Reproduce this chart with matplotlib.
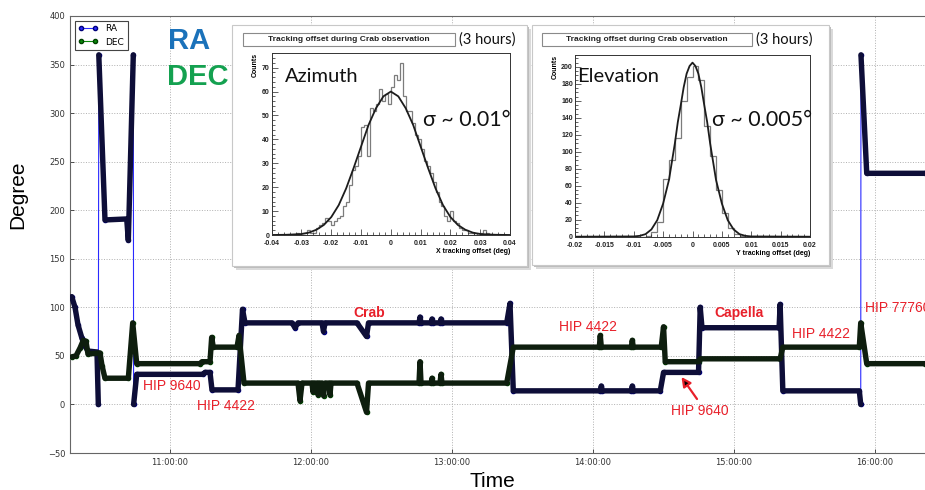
import numpy as np
import pandas as pd
import matplotlib
matplotlib.use('Agg')
import matplotlib.pyplot as plt
import matplotlib.dates as mdates
from matplotlib.patches import Rectangle
from matplotlib.ticker import MultipleLocator

W, H = 925, 490

# RA / DEC pointing log (time of day, degrees)
ra_time = ['10:18:10', '10:19:35', '10:20:51', '10:22:33', '10:23:50', '10:25:06', '10:28:56',
           '10:29:30', '10:29:42', '10:32:20', '10:41:35', '10:42:16', '10:44:23', '10:44:31',
           '10:45:50', '11:14:00', '11:14:53', '11:17:01', '11:17:52', '11:28:56', '11:30:51',
           '11:31:55', '11:51:55', '11:53:11', '11:54:28', '12:04:41', '12:05:19', '12:05:57',
           '12:19:34', '12:23:37', '12:24:28', '12:45:57', '12:46:23', '12:46:48', '12:51:04',
           '12:51:29', '12:51:55', '12:54:53', '12:55:19', '12:55:44', '13:23:16', '13:24:40',
           '13:26:04', '14:03:05', '14:03:31', '14:03:56', '14:16:17', '14:16:42', '14:17:08',
           '14:28:36', '14:30:00', '14:44:53', '14:45:36', '14:46:21', '15:19:10', '15:19:36',
           '15:20:45', '15:53:18', '15:53:54', '15:54:00', '15:56:27', '16:21:15']
ra_deg = [111, 100, 82, 68, 60, 55, 54,
          0, 360, 190, 191, 169, 360, 0,
          31, 31, 33, 33, 15, 15, 98,
          84, 84, 79, 84, 84, 75, 84,
          84, 70, 84, 84, 90, 84, 84,
          88, 84, 84, 88, 84, 84, 104,
          14, 14, 19, 14, 14, 19, 14,
          14, 33, 33, 100, 79, 79, 103,
          14, 14, 0, 360, 238, 238]

dec_time = ['10:18:10', '10:20:00', '10:21:42', '10:23:06', '10:24:15', '10:25:06', '10:30:13',
            '10:31:04', '10:32:20', '10:42:16', '10:44:08', '10:45:50', '11:12:46', '11:13:37',
            '11:17:01', '11:17:44', '11:18:25', '11:28:31', '11:29:22', '11:31:29', '11:54:28',
            '11:55:19', '11:56:10', '12:00:25', '12:00:51', '12:01:16', '12:02:33', '12:02:58',
            '12:03:24', '12:04:41', '12:05:19', '12:05:57', '12:07:39', '12:08:05', '12:08:30',
            '12:19:34', '12:23:37', '12:24:28', '12:45:57', '12:46:23', '12:46:48', '12:51:04',
            '12:51:29', '12:51:55', '12:54:53', '12:55:19', '12:55:44', '13:23:16', '13:26:04',
            '14:02:40', '14:03:05', '14:03:31', '14:16:17', '14:16:42', '14:17:08', '14:29:01',
            '14:30:00', '14:30:43', '14:44:53', '14:45:36', '15:19:36', '15:20:45', '15:53:18',
            '15:53:54', '15:56:27', '16:21:15']
dec_deg = [49, 50, 58, 66, 65, 52, 53,
           40, 27, 27, 84, 42, 42, 44,
           44, 69, 59, 59, 71, 22, 22,
           4, 22, 22, 13, 22, 22, 10,
           22, 22, 9, 22, 22, 10, 22,
           22, -8, 22, 22, 44, 22, 22,
           27, 22, 22, 31, 22, 22, 59,
           59, 71, 59, 59, 66, 59, 59,
           80, 44, 44, 47, 47, 59, 59,
           84, 42, 42]

y_ticks = [-50, 0, 50, 100, 150, 200, 250, 300, 350, 400]

# target labels: (text, x px, y px, bold)
targets = [('HIP 9640', 172, 386, False), ('HIP 4422', 226, 406, False),
           ('Crab', 369, 313, True), ('HIP 4422', 588, 327, False),
           ('Capella', 739, 313, True), ('HIP 4422', 821, 334, False),
           ('HIP 9640', 700, 411, False)]

# inset histograms (tracking offsets)
az_lo, az_bin = -0.04, 0.001
az_counts = [0, 0, 0, 0, 0, 0, 0, 0, 1, 0,
             1, 1, 2, 1, 1, 3, 4, 5, 7, 6,
             4, 6, 7, 8, 12, 14, 21, 27, 29, 33,
             45, 46, 33, 53, 52, 55, 61, 56, 59, 55,
             62, 67, 65, 72, 58, 52, 52, 47, 42, 40,
             36, 31, 29, 26, 22, 18, 14, 12, 8, 6,
             10, 6, 5, 3, 2, 2, 1, 1, 0, 1,
             1, 2, 1, 0, 0, 0, 0, 0, 0, 0]
az_fit_x = [-0.04, -0.035, -0.03, -0.0275, -0.025, -0.0225, -0.02, -0.0175, -0.015, -0.0125,
            -0.01, -0.0075, -0.005, -0.0025, 0, 0.0025, 0.005, 0.0075, 0.01, 0.0125,
            0.015, 0.0175, 0.02, 0.0225, 0.025, 0.0275, 0.03, 0.035, 0.04]
az_fit_y = [0, 0.1, 0.4, 1, 2.2, 4.2, 7.5, 12.5, 19.5, 28,
            37, 46, 53, 58, 60, 58, 53, 46, 37, 28,
            19.5, 12.5, 7.5, 4.2, 2.2, 1, 0.4, 0.1, 0]

el_lo, el_bin = -0.02, 0.001
el_counts = [0, 0, 0, 0, 0, 0, 0, 0, 0, 0, 0,
             0, 1, 5, 17, 68, 90, 116, 160, 188, 201, 185, 130, 95, 55, 28, 10, 3, 1,
             0, 0, 0, 0, 0, 0, 0, 0, 0, 0, 0]
el_fit_x = [-0.02, -0.01, -0.009, -0.008, -0.007, -0.006, -0.005, -0.004, -0.003, -0.0025,
            -0.002, -0.0015, -0.001, -0.0005, 0, 0.0005, 0.001, 0.0015, 0.002, 0.0025,
            0.003, 0.004, 0.005, 0.006, 0.007, 0.008, 0.009, 0.01, 0.02]
el_fit_y = [0, 0.3, 1, 3, 8.5, 19.5, 39, 67, 110, 135,
            155, 176, 192, 201, 205, 201, 192, 176, 155, 135,
            110, 67, 39, 19.5, 8.5, 3, 1, 0.3, 0]

az_ticks = [-0.04, -0.03, -0.02, -0.01, 0, 0.01, 0.02, 0.03, 0.04]
az_tick_labels = ['-0.04', '-0.03', '-0.02', '-0.01', '0', '0.01', '0.02', '0.03', '0.04']
el_ticks = [-0.02, -0.015, -0.01, -0.005, 0, 0.005, 0.01, 0.015, 0.02]
el_tick_labels = ['-0.02', '-0.015', '-0.01', '-0.005', '0', '0.005', '0.01', '0.015', '0.02']


def px_rect(x0, y0, x1, y1):
    return [x0 / W, 1 - y1 / H, (x1 - x0) / W, (y1 - y0) / H]


def to_dt(times):
    return pd.to_datetime(['2012-01-01 ' + s for s in times])


fig = plt.figure(figsize=(W / 100, H / 100), dpi=100)
ax = fig.add_axes(px_rect(70, 16, 935, 453), zorder=1)

t_ra = to_dt(ra_time)
t_dec = to_dt(dec_time)
ra = np.array(ra_deg, dtype=float)
dec = np.array(dec_deg, dtype=float)

# thin connecting lines with markers (shows the 360 -> 0 wraps)
ax.plot(t_ra, ra, 'o-', color='#2a2aff', lw=0.8, ms=3, mec='#00007a', label='RA', zorder=2)
ax.plot(t_dec, dec, 'o-', color='#0a8a0a', lw=0.8, ms=3, mec='#004000', label='DEC', zorder=2)

# thick dense tracks, broken at the RA wraps
splits = np.where(np.abs(np.diff(ra)) > 300)[0] + 1
for idx in np.split(np.arange(len(ra)), splits):
    ax.plot(t_ra[idx], ra[idx], color='#0e0e38', lw=3.9, solid_joinstyle='round',
            solid_capstyle='round', zorder=3)
ax.plot(t_dec, dec, color='#0e1e0e', lw=3.9, solid_joinstyle='round',
        solid_capstyle='round', zorder=4)

ax.set_xlim(pd.Timestamp('2012-01-01 10:17:27'), pd.Timestamp('2012-01-01 16:25:30'))
ax.set_ylim(-50, 400)
ax.set_yticks(y_ticks)
ax.xaxis.set_major_locator(mdates.HourLocator())
ax.xaxis.set_major_formatter(mdates.DateFormatter('%H:%M:%S'))
ax.tick_params(labelsize=6, colors='#333333', direction='in', length=3, width=0.6)
ax.grid(True, ls=':', color='#b0b0b0', lw=0.7)
for side in ['left', 'bottom', 'top']:
    ax.spines[side].set_color('#666666')
    ax.spines[side].set_linewidth(0.8)
ax.spines['right'].set_visible(False)

leg = ax.legend(loc='upper left', fontsize=6.5, numpoints=2, fancybox=False,
                edgecolor='#444444', framealpha=1, handlelength=2.2, borderpad=0.4,
                labelspacing=0.5)
leg.get_frame().set_linewidth(0.8)

fig.text(18 / W, 1 - 195 / H, 'Degree', rotation=90, ha='center', va='center',
         fontsize=15, family='Liberation Sans')
fig.text(492 / W, 1 - 481 / H, 'Time', ha='center', va='center',
         fontsize=15, family='Liberation Sans')
fig.text(168 / W, 1 - 41 / H, 'RA', ha='left', va='center', fontsize=21,
         fontweight='bold', color='#1b72ba', family='Liberation Sans', zorder=10)
fig.text(167 / W, 1 - 77 / H, 'DEC', ha='left', va='center', fontsize=21,
         fontweight='bold', color='#14a150', family='Liberation Sans', zorder=10)

red = '#e8202a'
for txt, x, y, bold in targets:
    ax.annotate(txt, xy=(x, H - y), xycoords='figure pixels', ha='center', va='center',
                color=red, fontsize=10, fontweight='bold' if bold else 'normal',
                family='Liberation Sans', zorder=6)
# cut off by the right edge, as in the original slide
ax.annotate('HIP 77760', xy=(865, H - 308), xycoords='figure pixels', ha='left',
            va='center', color=red, fontsize=10, family='Liberation Sans', zorder=6)
ax.annotate('', xy=(681.5, H - 377), xycoords='figure pixels',
            xytext=(697, H - 399), textcoords='figure pixels',
            arrowprops=dict(arrowstyle='-|>,head_length=0.55,head_width=0.28',
                            fc='black', ec=red, lw=1.6, shrinkA=0, shrinkB=0))


def draw_inset(frame, area, title_x, lo, width, counts, fit_x, fit_y, xlim, ymax,
               ticks, tick_labels, xminor, yminor, ymajor, xlabel, name, name_xy,
               sigma, sigma_xy):
    x0, y0, x1, y1 = frame
    fig.add_artist(Rectangle(((x0 + 4) / W, 1 - (y1 + 4) / H), (x1 - x0) / W, (y1 - y0) / H,
                             transform=fig.transFigure, fc='#dadada', ec='none', zorder=3))
    fig.add_artist(Rectangle(((x0 + 2) / W, 1 - (y1 + 2) / H), (x1 - x0) / W, (y1 - y0) / H,
                             transform=fig.transFigure, fc='#bdbdbd', ec='none', zorder=3))
    fig.add_artist(Rectangle((x0 / W, 1 - y1 / H), (x1 - x0) / W, (y1 - y0) / H,
                             transform=fig.transFigure, fc='white', ec='#c8c8c8', lw=0.8,
                             zorder=4))

    # title box + duration
    bx0, bx1 = title_x
    fig.add_artist(Rectangle((bx0 / W, 1 - 46 / H), (bx1 - bx0) / W, 13 / H,
                             transform=fig.transFigure, fc='white', ec='#8a8a8a', lw=0.8,
                             zorder=6))
    fig.text((bx0 + bx1) / 2 / W, 1 - 39.5 / H, 'Tracking offset during Crab observation',
             ha='center', va='center', fontsize=6, fontweight='bold',
             family='Liberation Sans', color='#222222', zorder=10)
    fig.text((bx1 + 4) / W, 1 - 39.5 / H, '(3 hours)', ha='left', va='center',
             fontsize=10.5, family='Lato', color='#111111', zorder=10)

    hx = fig.add_axes(px_rect(*area), zorder=5)
    edges = lo + width * np.arange(len(counts) + 1)
    hx.stairs(counts, edges, color='#7c7c7c', lw=0.9)
    hx.plot(fit_x, fit_y, color='#1c1c1c', lw=1.3)
    hx.set_xlim(*xlim)
    hx.set_ylim(0, ymax)
    hx.set_xticks(ticks)
    hx.set_xticklabels(tick_labels, fontweight='bold', family='Liberation Sans')
    hx.yaxis.set_major_locator(MultipleLocator(ymajor))
    hx.xaxis.set_minor_locator(MultipleLocator(xminor))
    hx.yaxis.set_minor_locator(MultipleLocator(yminor))
    for lab in hx.get_yticklabels():
        lab.set_fontweight('bold')
        lab.set_family('Liberation Sans')
    hx.tick_params(which='both', direction='in', labelsize=5, width=0.5, colors='#222222')
    hx.tick_params(axis='x', which='both', pad=3.5)
    hx.tick_params(axis='y', which='both', pad=1.5)
    hx.tick_params(which='major', length=4)
    hx.tick_params(which='minor', length=2)
    for s in hx.spines.values():
        s.set_linewidth(0.7)
        s.set_color('#333333')
    hx.set_xlabel(xlabel, loc='right', fontsize=5, fontweight='bold',
                  family='Liberation Sans', labelpad=1)
    hx.set_ylabel('Counts', loc='top', fontsize=5, fontweight='bold',
                  family='Liberation Sans', labelpad=2)
    fig.text(name_xy[0] / W, 1 - name_xy[1] / H, name, ha='left', va='center',
             fontsize=14.5, family='Lato', color='#111111', zorder=10)
    fig.text(sigma_xy[0] / W, 1 - sigma_xy[1] / H, sigma, ha='left', va='center',
             fontsize=15.5, family='Lato', color='#111111', zorder=10)


draw_inset((232, 25, 527, 266), (271.7, 53.3, 510, 235), (243, 455), az_lo, az_bin,
           az_counts, az_fit_x, az_fit_y, (-0.04, 0.04), 76, az_ticks, az_tick_labels,
           0.002, 2, 10, 'X tracking offset (deg)', 'Azimuth', (285, 76),
           'σ ~ 0.01°', (423, 120))
draw_inset((532, 25, 829, 265), (575, 55, 810, 236.7), (542, 752), el_lo, el_bin,
           el_counts, el_fit_x, el_fit_y, (-0.02, 0.02), 214, el_ticks, el_tick_labels,
           0.001, 5, 20, 'Y tracking offset (deg)', 'Elevation', (577, 76),
           'σ ~ 0.005°', (712, 120))

fig.savefig('out.png', dpi=100)
